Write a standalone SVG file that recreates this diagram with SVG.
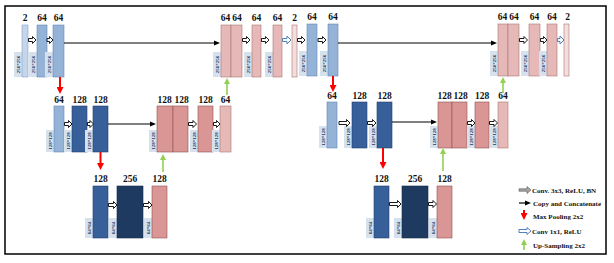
<svg xmlns="http://www.w3.org/2000/svg" width="614" height="263" viewBox="0 0 614 263">
<defs>
<style>
.num{font-family:"Liberation Serif",serif;font-weight:bold;font-size:9.5px;text-anchor:middle;fill:#111}
.dim{font-family:"Liberation Serif",serif;font-weight:bold;font-size:5px;text-anchor:middle;fill:#1f3864}
.dbox{fill:#d6e1ee}
.bin{fill:#c5d5ea;stroke:#8aa4c8;stroke-width:0.6}
.bl1{fill:#95b3d7;stroke:#6688b5;stroke-width:0.6}
.bl2{fill:#37609a;stroke:#22406e;stroke-width:0.6}
.bl3{fill:#1f3a60;stroke:#152a48;stroke-width:0.6}
.pt{fill:#e6b9b8;stroke:#a87573;stroke-width:0.6}
.pm{fill:#d99694;stroke:#8f5553;stroke-width:0.6}
.po{fill:#f4dedd;stroke:#a87573;stroke-width:0.6}
.ha{fill:#fff;stroke:#000;stroke-width:0.9}
.ba{fill:#fff;stroke:#4f81bd;stroke-width:1}
.ga{fill:#a6a6a6;stroke:#555;stroke-width:0.6}
.copy{stroke:#000;stroke-width:1.2;fill:none;marker-end:url(#mk)}
.pool{stroke:#f00;stroke-width:2;fill:none;marker-end:url(#mr)}
.up{stroke:#92d050;stroke-width:1.6;fill:none;marker-end:url(#mg)}
.leg{font-family:"Liberation Serif",serif;font-weight:bold;font-size:7px;fill:#111}
</style>
<marker id="mk" viewBox="0 0 6 6" refX="2" refY="3" markerWidth="6" markerHeight="6" markerUnits="userSpaceOnUse" orient="auto"><path d="M0,0.5L6,3L0,5.5Z" fill="#000"/></marker>
<marker id="mr" viewBox="0 0 7 7" refX="2" refY="3.5" markerWidth="7" markerHeight="7" markerUnits="userSpaceOnUse" orient="auto"><path d="M0,0L7,3.5L0,7Z" fill="#f00"/></marker>
<marker id="mg" viewBox="0 0 6 6" refX="2" refY="3" markerWidth="6" markerHeight="6" markerUnits="userSpaceOnUse" orient="auto"><path d="M0,0L6,3L0,6Z" fill="#92d050"/></marker>
</defs>
<rect x="0" y="0" width="614" height="263" fill="#fff"/>
<rect x="5" y="6" width="601" height="248" fill="none" stroke="#000" stroke-width="1.5"/>

<!-- First U, top row -->
<g id="a1"><rect class="dbox" x="14" y="52" width="8" height="25"/><text class="dim" transform="translate(18,64.5) rotate(-90)" dy="1.8">256*256</text><rect class="bin" x="22" y="25" width="6" height="52"/><text class="num" x="25" y="21">2</text></g>
<g id="a2"><rect class="dbox" x="29" y="52" width="8" height="25"/><text class="dim" transform="translate(33,64.5) rotate(-90)" dy="1.8">256*256</text><rect class="bl1" x="37" y="25" width="10" height="52"/><text class="num" x="42" y="21">64</text></g>
<g id="a3"><rect class="dbox" x="45" y="52" width="8" height="25"/><text class="dim" transform="translate(49,64.5) rotate(-90)" dy="1.8">256*256</text><rect class="bl1" x="53" y="25" width="11" height="52"/><text class="num" x="58.5" y="21">64</text></g>
<g id="a4"><rect class="dbox" x="213" y="52" width="8" height="25"/><text class="dim" transform="translate(217,64.5) rotate(-90)" dy="1.8">256*256</text><rect class="pt" x="221" y="25" width="10" height="52"/><rect class="pt" x="231" y="25" width="11" height="52"/><text class="num" x="225.5" y="21">64</text><text class="num" x="237" y="21">64</text></g>
<g id="a5"><rect class="dbox" x="244" y="52" width="8" height="25"/><text class="dim" transform="translate(248,64.5) rotate(-90)" dy="1.8">256*256</text><rect class="pt" x="252" y="25" width="9" height="52"/><text class="num" x="256.5" y="21">64</text></g>
<g id="a6"><rect class="dbox" x="265" y="52" width="8" height="25"/><text class="dim" transform="translate(269,64.5) rotate(-90)" dy="1.8">256*256</text><rect class="pt" x="273" y="25" width="9" height="52"/><text class="num" x="277.5" y="21">64</text></g>
<g id="a7"><rect class="po" x="292" y="25" width="5" height="52"/><text class="num" x="294.5" y="21">2</text></g>

<!-- First U, middle row -->
<g id="a8"><rect class="dbox" x="46" y="130" width="8" height="22"/><text class="dim" transform="translate(50,141) rotate(-90)" dy="1.8">128*128</text><rect class="bl1" x="54" y="106" width="10" height="46"/><text class="num" x="59" y="103">64</text></g>
<g id="a9"><rect class="dbox" x="64" y="130" width="8" height="22"/><text class="dim" transform="translate(68,141) rotate(-90)" dy="1.8">128*128</text><rect class="bl2" x="72" y="106" width="15" height="46"/><text class="num" x="79.5" y="103">128</text></g>
<g id="a10"><rect class="dbox" x="85" y="130" width="8" height="22"/><text class="dim" transform="translate(89,141) rotate(-90)" dy="1.8">128*128</text><rect class="bl2" x="93" y="106" width="15" height="46"/><text class="num" x="100.5" y="103">128</text></g>
<g id="a11"><rect class="dbox" x="149" y="130" width="8" height="22"/><text class="dim" transform="translate(153,141) rotate(-90)" dy="1.8">128*128</text><rect class="pm" x="157" y="106" width="16" height="46"/><rect class="pm" x="173" y="106" width="15" height="46"/><text class="num" x="164.5" y="103">128</text><text class="num" x="181.5" y="103">128</text></g>
<g id="a12"><rect class="dbox" x="190" y="130" width="8" height="22"/><text class="dim" transform="translate(194,141) rotate(-90)" dy="1.8">128*128</text><rect class="pm" x="198" y="106" width="15" height="46"/><text class="num" x="205.5" y="103">128</text></g>
<g id="a13"><rect class="dbox" x="212" y="130" width="8" height="22"/><text class="dim" transform="translate(216,141) rotate(-90)" dy="1.8">128*128</text><rect class="pt" x="220" y="106" width="11" height="46"/><text class="num" x="225.5" y="103">64</text></g>

<!-- First U, bottom row -->
<g id="a14"><rect class="dbox" x="85" y="218" width="8" height="20"/><text class="dim" transform="translate(89,228) rotate(-90)" dy="1.8">64*64</text><rect class="bl2" x="93" y="186" width="15" height="52"/><text class="num" x="100.5" y="182">128</text></g>
<g id="a15"><rect class="dbox" x="109" y="218" width="8" height="20"/><text class="dim" transform="translate(113,228) rotate(-90)" dy="1.8">64*64</text><rect class="bl3" x="117" y="186" width="26" height="52"/><text class="num" x="130" y="182">256</text></g>
<g id="a16"><rect class="dbox" x="144" y="218" width="8" height="20"/><text class="dim" transform="translate(148,228) rotate(-90)" dy="1.8">64*64</text><rect class="pm" x="152" y="186" width="15" height="52"/><text class="num" x="159.5" y="182">128</text></g>

<!-- Second U, top row -->
<g id="b1"><rect class="dbox" x="299" y="51" width="8" height="25"/><text class="dim" transform="translate(303,63.5) rotate(-90)" dy="1.8">256*256</text><rect class="bl1" x="307" y="24" width="10" height="52"/><text class="num" x="312" y="20">64</text></g>
<g id="b2"><rect class="dbox" x="320" y="51" width="8" height="25"/><text class="dim" transform="translate(324,63.5) rotate(-90)" dy="1.8">256*256</text><rect class="bl1" x="328" y="24" width="10" height="52"/><text class="num" x="333" y="20">64</text></g>
<g id="b3"><rect class="dbox" x="490" y="51" width="8" height="25"/><text class="dim" transform="translate(494,63.5) rotate(-90)" dy="1.8">256*256</text><rect class="pt" x="498" y="24" width="10" height="52"/><rect class="pt" x="508" y="24" width="11" height="52"/><text class="num" x="502.5" y="20">64</text><text class="num" x="514" y="20">64</text></g>
<g id="b4"><rect class="dbox" x="521" y="51" width="8" height="25"/><text class="dim" transform="translate(525,63.5) rotate(-90)" dy="1.8">256*256</text><rect class="pt" x="529" y="24" width="11" height="52"/><text class="num" x="534.5" y="20">64</text></g>
<g id="b5"><rect class="dbox" x="539" y="51" width="8" height="25"/><text class="dim" transform="translate(543,63.5) rotate(-90)" dy="1.8">256*256</text><rect class="pt" x="547" y="24" width="10" height="52"/><text class="num" x="552" y="20">64</text></g>
<g id="b6"><rect class="po" x="564" y="24" width="5" height="52"/><text class="num" x="567.5" y="20">2</text></g>

<!-- Second U, middle row -->
<g id="b7"><rect class="dbox" x="319" y="126" width="8" height="22"/><text class="dim" transform="translate(323,137) rotate(-90)" dy="1.8">128*128</text><rect class="bl1" x="327" y="102" width="10" height="46"/><text class="num" x="332" y="99">64</text></g>
<g id="b8"><rect class="dbox" x="344" y="126" width="8" height="22"/><text class="dim" transform="translate(348,137) rotate(-90)" dy="1.8">128*128</text><rect class="bl2" x="352" y="102" width="15" height="46"/><text class="num" x="359.5" y="99">128</text></g>
<g id="b9"><rect class="dbox" x="369" y="126" width="8" height="22"/><text class="dim" transform="translate(373,137) rotate(-90)" dy="1.8">128*128</text><rect class="bl2" x="377" y="102" width="15" height="46"/><text class="num" x="384.5" y="99">128</text></g>
<g id="b10"><rect class="dbox" x="430" y="126" width="8" height="22"/><text class="dim" transform="translate(434,137) rotate(-90)" dy="1.8">128*128</text><rect class="pm" x="438" y="102" width="14" height="46"/><rect class="pm" x="452" y="102" width="15" height="46"/><text class="num" x="444.5" y="99">128</text><text class="num" x="460.5" y="99">128</text></g>
<g id="b11"><rect class="dbox" x="467" y="126" width="8" height="22"/><text class="dim" transform="translate(471,137) rotate(-90)" dy="1.8">128*128</text><rect class="pm" x="475" y="102" width="14" height="46"/><text class="num" x="482" y="99">128</text></g>
<g id="b12"><rect class="dbox" x="490" y="126" width="8" height="22"/><text class="dim" transform="translate(494,137) rotate(-90)" dy="1.8">128*128</text><rect class="pt" x="498" y="102" width="10" height="46"/><text class="num" x="503" y="99">64</text></g>

<!-- Second U, bottom row -->
<g id="b13"><rect class="dbox" x="366" y="218" width="8" height="20"/><text class="dim" transform="translate(370,228) rotate(-90)" dy="1.8">64*64</text><rect class="bl2" x="374" y="186" width="15" height="52"/><text class="num" x="381.5" y="182">128</text></g>
<g id="b14"><rect class="dbox" x="394" y="218" width="8" height="20"/><text class="dim" transform="translate(398,228) rotate(-90)" dy="1.8">64*64</text><rect class="bl3" x="402" y="186" width="26" height="52"/><text class="num" x="415" y="182">256</text></g>
<g id="b15"><rect class="dbox" x="429" y="218" width="8" height="20"/><text class="dim" transform="translate(433,228) rotate(-90)" dy="1.8">64*64</text><rect class="pm" x="437" y="186" width="15" height="52"/><text class="num" x="444.5" y="182">128</text></g>

<g id="connectors">
<!-- conv 3x3 hollow arrows -->
<path class="ha" d="M28.5,38.5H32.5V36.5L36,40L32.5,43.5V41.5H28.5Z"/>
<path class="ha" d="M47,38.5H49.5V36.5L53,40L49.5,43.5V41.5H47Z"/>
<path class="ha" d="M242.5,38.5H246.5V36.5L250,40L246.5,43.5V41.5H242.5Z"/>
<path class="ha" d="M261.5,38.5H265.5V36.5L269,40L265.5,43.5V41.5H261.5Z"/>
<path class="ha" d="M297.5,38.5H301.5V36.5L305,40L301.5,43.5V41.5H297.5Z"/>
<path class="ha" d="M318,38.5H322.5V36.5L326,40L322.5,43.5V41.5H318Z"/>
<path class="ha" d="M519.5,38.5H524V36.5L527.5,40L524,43.5V41.5H519.5Z"/>
<path class="ha" d="M540.5,38.5H543.5V36.5L547,40L543.5,43.5V41.5H540.5Z"/>
<path class="ha" d="M64.5,122.5H68.5V120.5L72,124L68.5,127.5V125.5H64.5Z"/>
<path class="ha" d="M87.5,122.5H90V120.5L93.5,124L90,127.5V125.5H87.5Z"/>
<path class="ha" d="M188.5,122.5H193V120.5L196.5,124L193,127.5V125.5H188.5Z"/>
<path class="ha" d="M213.5,122.5H216.5V120.5L220,124L216.5,127.5V125.5H213.5Z"/>
<path class="ha" d="M339,121.5H346.5V119.5L350,123L346.5,126.5V124.5H339Z"/>
<path class="ha" d="M367.5,121.5H372.5V119.5L376,123L372.5,126.5V124.5H367.5Z"/>
<path class="ha" d="M467.5,121.5H471.5V119.5L475,123L471.5,126.5V124.5H467.5Z"/>
<path class="ha" d="M489.5,121.5H494V119.5L497.5,123L494,126.5V124.5H489.5Z"/>
<path class="ha" d="M108.5,203.5H113.5V201.5L117,205L113.5,208.5V206.5H108.5Z"/>
<path class="ha" d="M143.5,203.5H148.5V201.5L152,205L148.5,208.5V206.5H143.5Z"/>
<path class="ha" d="M389.5,202.5H397.5V200.5L401,204L397.5,207.5V205.5H389.5Z"/>
<path class="ha" d="M428.5,202.5H433V200.5L436.5,204L433,207.5V205.5H428.5Z"/>
<!-- conv 1x1 arrows -->
<path class="ba" d="M282.5,38.5H287V36L291,40L287,44V41.5H282.5Z"/>
<path class="ba" d="M557.5,38.5H560V36L564,40L560,44V41.5H557.5Z"/>
<!-- copy and concatenate -->
<line class="copy" x1="64" y1="43" x2="216" y2="43"/>
<line class="copy" x1="338" y1="43" x2="493" y2="43"/>
<line class="copy" x1="108" y1="124" x2="152" y2="124"/>
<line class="copy" x1="392" y1="122" x2="433" y2="122"/>
<!-- max pooling -->
<line class="pool" x1="60" y1="77" x2="60" y2="89"/>
<line class="pool" x1="100.5" y1="152" x2="100.5" y2="165"/>
<line class="pool" x1="333" y1="76" x2="333" y2="87"/>
<line class="pool" x1="383" y1="148" x2="383" y2="164"/>
<!-- up-sampling -->
<line class="up" x1="163" y1="172" x2="163" y2="158"/>
<line class="up" x1="227" y1="95" x2="227" y2="82"/>
<line class="up" x1="443" y1="171" x2="443" y2="152"/>
<line class="up" x1="503" y1="93" x2="503" y2="81"/>
</g>

<g id="legend">
<path class="ga" d="M519,188.8H527V186.5L531,190L527,193.5V191.2H519Z"/>
<text class="leg" x="532" y="192.5">Conv. 3x3, ReLU, BN</text>
<line class="copy" x1="519" y1="203" x2="527" y2="203"/>
<text class="leg" x="533" y="205.5">Copy and Concatenate</text>
<line class="pool" x1="524" y1="210" x2="524" y2="215"/>
<text class="leg" x="533" y="219">Max Pooling 2x2</text>
<path class="ba" d="M519,229.5H527V227.5L531,231L527,234.5V232.5H519Z"/>
<text class="leg" x="532" y="233.5">Conv 1x1, ReLU</text>
<line class="up" x1="524" y1="250" x2="524" y2="243"/>
<text class="leg" x="533" y="248">Up-Sampling 2x2</text>
</g>
</svg>
